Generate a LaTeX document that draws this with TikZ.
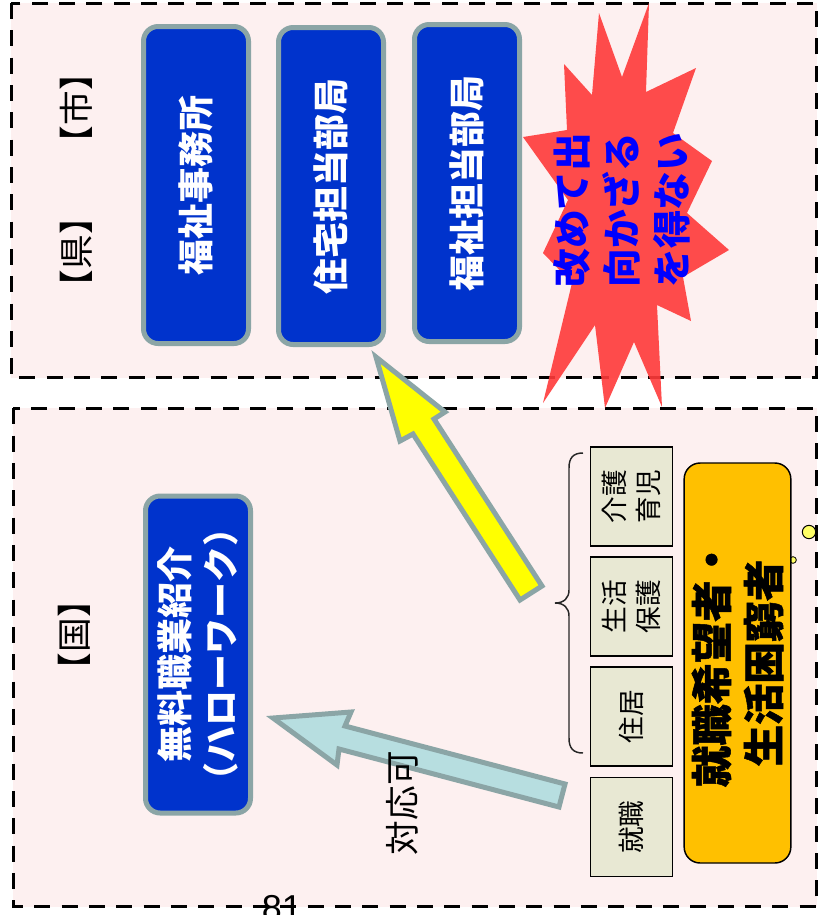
\documentclass[tikz,border=0pt]{standalone}
\usepackage{fontspec}
\setmainfont{Noto Sans CJK JP}
\newfontfamily\heavyfont{Noto Sans CJK JP}[BoldFeatures={FakeBold=1.2}]
\newfontfamily\latinfont{Liberation Sans}
\definecolor{bgpink}{HTML}{FDF0F0}
\definecolor{boxblue}{HTML}{0033CC}
\definecolor{boxgray}{HTML}{8BA5A6}
\definecolor{arrowyellow}{HTML}{FFFF00}
\definecolor{arrowblue}{HTML}{B7DEE0}
\definecolor{orangeC}{HTML}{FFC000}
\definecolor{beige}{HTML}{E8E8D3}
\definecolor{starred}{HTML}{FF3A3A}
\definecolor{textblue}{HTML}{0000FF}
\definecolor{circyellow}{HTML}{FFFF66}
\begin{document}
\begin{tikzpicture}[x=0.75pt,y=-0.75pt,
  dashbox/.style={draw=black,line width=2.25pt,dash pattern=on 12pt off 8.5pt,fill=bgpink},
  bluebox/.style={draw=boxgray,line width=3.75pt,fill=boxblue,rounded corners=11pt,rotate=90,
    minimum width=237.75pt,minimum height=78.75pt,text=white,
    font=\fontsize{27pt}{34pt}\selectfont\bfseries,align=center,inner sep=0pt},
  smallbox/.style={draw=black,line width=1.1pt,fill=beige,rotate=90,minimum width=74.25pt,
    minimum height=61.5pt,font=\fontsize{20pt}{25pt}\selectfont,align=center,inner sep=0pt},
  plaintext/.style={rotate=90,font=\fontsize{26pt}{30pt}\selectfont,inner sep=0pt},
  blockarrow/.style={draw=boxgray,line width=3.75pt,line join=miter}
]
\useasboundingbox (0,0) rectangle (818,915);
\clip (0,0) rectangle (818,915);

% region boxes
\draw[dashbox] (11.3,3) rectangle (816.5,377.7);
\draw[dashbox] (13.3,408.3) rectangle (816.5,906.7);

% labels
\node[plaintext] (ken) at (76,252) {【県】};
\node[plaintext] (shi) at (76,108) {【市】};
\node[plaintext] (kuni) at (74,635) {【国】};

% top boxes
\node[bluebox] (fukushi) at (196,185) {福祉事務所};
\node[bluebox] (jutaku) at (331,186) {住宅担当部局};
\node[bluebox] (fukutan) at (467,183) {福祉担当部局};
\node[bluebox] (hw) at (198,654.5) {無料職業紹介\\（ハローワーク）};

% starburst
\fill[starred,opacity=0.9] (649,3) -- (646,92) -- (696,68) -- (673,133) -- (712,161) -- (687,213)
  -- (729,250) -- (683,277) -- (691,321) -- (657,305) -- (662,407) -- (634,342) -- (605,408)
  -- (595,325) -- (543,403) -- (572,283) -- (543,253) -- (568,200) -- (523,137) -- (567,130)
  -- (564,64) -- (592,95) -- (599,13) -- (622,77) -- cycle;
\node[rotate=90,text=textblue,font=\fontsize{29pt}{37.5pt}\selectfont\bfseries,align=center,inner sep=0pt]
  (burst) at (622,210) {改めて出\\向かざる\\を得ない};

% arrows
\filldraw[blockarrow,fill=arrowyellow] (376,357) -- (445,412) -- (434,419) -- (542,586) -- (520,600)
  -- (413,434) -- (400,441) -- cycle;
\filldraw[blockarrow,fill=arrowblue] (273,718) -- (351,712) -- (345,726) -- (565,784) -- (559,807)
  -- (339,749) -- (337,765) -- cycle;
\node[plaintext] (taio) at (402,803) {対応可};

% brace
\draw[line width=1.1pt,black!85] (583,453) .. controls (573,453) and (569,458) .. (569,468)
  -- (569,590) .. controls (569,598) and (564,603) .. (555,603)
  .. controls (564,603) and (569,608) .. (569,616)
  -- (569,738) .. controls (569,748) and (573,753) .. (583,753);

% small boxes
\node[smallbox] (kaigo) at (631.5,496.5) {介護\\育児};
\node[smallbox] (seikatsu) at (631.5,606.5) {生活\\保護};
\node[smallbox] (jukyo) at (631.5,716.5) {住居};
\node[smallbox] (shushoku) at (631.5,827) {就職};

% circles
\node[circle,draw=black,line width=0.75pt,fill=circyellow,minimum size=10pt,inner sep=0pt] (c1) at (809,532) {};
\node[circle,draw=black,line width=0.6pt,fill=circyellow,minimum size=5pt,inner sep=0pt] (c2) at (793,560) {};

% target group
\node[draw=black,line width=1.1pt,fill=orangeC,rounded corners=12pt,rotate=90,minimum width=300pt,
  minimum height=80pt,align=center,inner sep=0pt,font=\heavyfont\fontsize{31pt}{39pt}\selectfont\bfseries]
  (target) at (737.5,663) {就職希望者・\\生活困窮者};

% page number
\node[anchor=base,inner sep=0pt,font=\latinfont\fontsize{27pt}{30pt}\selectfont] (page) at (282,920) {81};
\end{tikzpicture}
\end{document}
